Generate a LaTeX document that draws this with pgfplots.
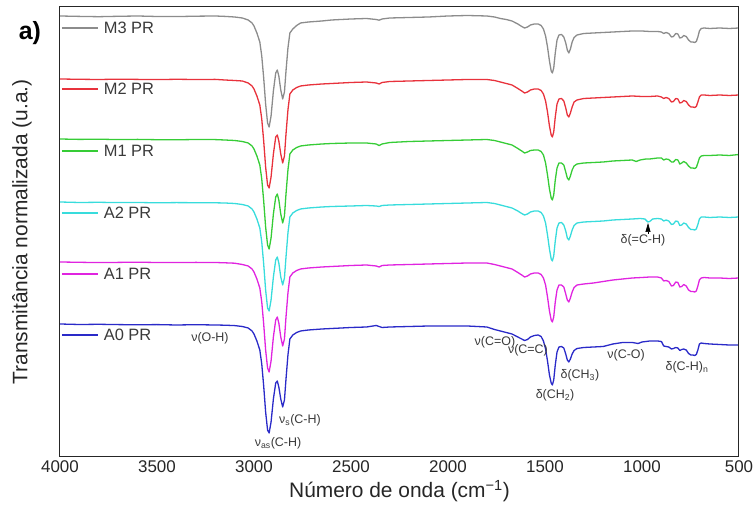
\documentclass[border=0pt]{standalone}
\usepackage{fontspec}
\setmainfont{Liberation Sans}
\usepackage{pgfplots}
\pgfplotsset{compat=1.18}
\usepackage{pgfplotstable}
\usetikzlibrary{arrows.meta}

\definecolor{cM3}{HTML}{8C8C8C}
\definecolor{cM2}{HTML}{E8323C}
\definecolor{cM1}{HTML}{36CC36}
\definecolor{cA2}{HTML}{38DCDC}
\definecolor{cA1}{HTML}{E024E0}
\definecolor{cA0}{HTML}{2A2AC8}
\definecolor{txt}{HTML}{3A3A3A}

% relative transmittance drop (px) below each spectrum's own baseline
\pgfplotstableread{
wn r
4000 0
3900 0.4
3800 0.7
3700 0.3
3600 0
3500 0.5
3400 0.6
3300 0.2
3200 0
3150 0.4
3100 1
3060 2
3030 4
3010 7
3000 10
2985 17
2970 26
2960 40
2950 62
2940 88
2930 107
2922 111
2912 100
2900 75
2888 57
2880 54
2872 60
2862 74
2852 83
2843 76
2835 55
2825 32
2815 17
2800 13
2780 9.5
2760 7
2720 6
2650 5
2600 4
2500 3
2420 2.5
2370 3.5
2355 4.2
2340 3
2300 2
2200 1.5
2100 1
2000 0
1900 -0.5
1800 0
1760 1
1730 2.5
1700 3.5
1670 5
1640 8
1620 10.5
1605 12
1590 11
1575 9
1555 8
1535 8
1520 9.5
1508 13
1497 20
1487 31
1477 45
1468 55
1462 57
1455 52
1447 37
1438 24
1428 19
1415 18.5
1403 21
1393 27
1385 34
1377 37
1369 33
1360 26
1350 21.5
1335 19
1300 17.5
1250 17
1200 16.5
1150 16
1100 15.5
1050 15
1000 15
960 15.5
920 15.5
900 16
888 17.5
876 16.5
862 17.5
848 21
838 20.5
826 17.5
815 18
805 22
795 21.5
785 19.5
772 20.5
760 24
748 26
738 26
728 26.5
720 25.5
712 21
704 15
695 12.5
680 12
650 12.5
600 12
550 12.5
500 12
}\dataMthree

\pgfplotstableread{
wn r
4000 0
3900 0.3
3800 0.5
3700 0.2
3600 0.4
3500 0.6
3400 0.3
3300 0.5
3200 0.4
3150 1
3100 1.5
3060 2
3030 4
3010 7
3000 10
2985 17
2970 26
2960 40
2950 62
2940 88
2930 106
2922 109
2912 98
2900 75
2888 58
2880 56
2872 62
2862 75
2852 84
2843 77
2835 55
2825 31
2815 15
2800 11
2780 8.5
2760 7
2720 6
2650 5
2600 4.5
2500 3.5
2420 3
2370 4
2355 5
2340 3.5
2300 2.5
2200 2
2100 1.5
2000 1
1900 0.5
1800 0.5
1760 1.5
1730 3
1700 4.5
1670 6
1640 9.5
1620 12
1605 14
1590 13
1575 11
1555 10
1535 10
1520 11.5
1508 15
1497 22
1487 33
1477 47
1468 56
1462 58
1455 53
1447 38
1438 25
1428 20
1415 19.5
1403 22
1393 29
1385 36
1377 38
1369 34
1360 28
1350 23
1335 21
1300 19.5
1250 19
1200 18.5
1150 18
1100 17.5
1050 17
1000 17.5
960 17.5
920 17
900 18
888 19.5
876 18.5
862 19.5
848 23
838 22.5
826 19.5
815 20
805 24
795 23.5
785 21.5
772 22.5
760 26
748 28
738 28
728 28.5
720 27.5
712 23
704 18
695 16
680 16
650 16.5
600 16
550 16.5
500 16
}\dataMtwo

\pgfplotstableread{
wn r
4000 0
3900 0.4
3800 0.2
3700 0.6
3600 0.4
3500 0.7
3400 0.8
3300 0.5
3200 0.6
3150 1
3100 1.5
3060 2.5
3030 4
3010 7
3000 10
2985 17
2970 26
2960 40
2950 62
2940 88
2930 106
2922 110
2912 99
2900 75
2888 58
2880 55
2872 61
2862 75
2852 84
2843 77
2835 55
2825 31
2815 15
2800 11
2780 8.5
2760 7
2720 6
2650 5
2600 4.5
2500 4
2420 4
2370 5
2355 6.5
2340 5
2300 3.5
2200 2.5
2100 2
2000 1.5
1900 1
1800 0.5
1760 1.5
1730 3
1700 4.5
1670 6
1640 9.5
1620 12
1605 14
1590 13
1575 11.5
1555 11
1535 11
1520 12.5
1508 16
1497 24
1487 36
1477 50
1468 59
1462 61
1455 56
1447 41
1438 29
1428 24
1415 24
1403 26
1393 33
1385 39
1377 41
1369 37
1360 31
1350 27
1335 25
1300 24
1250 23.5
1200 23
1150 22
1100 21.5
1050 21
1030 22.5
1010 21
980 20
960 20
920 19
900 19
888 21
876 20
862 20.5
848 23
838 23
826 20.5
815 21
805 25
795 24
785 22.5
772 24
760 27
748 29
738 29
728 29.5
720 28.5
712 24
704 19
695 17
680 16.5
650 16.5
600 16
550 16.5
500 15.5
}\dataMone

\pgfplotstableread{
wn r
4000 0
3900 0.5
3800 0.3
3700 0.6
3600 0.5
3500 0.8
3400 0.6
3300 0.7
3200 0.8
3150 1
3100 1.5
3060 2.5
3030 4
3010 7
3000 10
2985 17
2970 26
2960 40
2950 62
2940 88
2930 106
2922 109
2912 98
2900 75
2888 58
2880 55
2872 61
2862 75
2852 83
2843 76
2835 55
2825 31
2815 15
2800 11
2780 8.5
2760 7
2720 6
2650 5
2600 4.5
2500 4
2420 3.5
2370 4
2355 4.5
2340 3.5
2300 3
2200 2.5
2100 2
2000 1.5
1900 1
1800 0.5
1760 1.5
1730 3
1700 4.5
1670 6
1640 9
1620 11.5
1605 13
1590 12
1575 10
1555 9
1535 9
1520 10.5
1508 14
1497 21
1487 33
1477 47
1468 57
1462 59
1455 54
1447 39
1438 26
1428 21
1415 20.5
1403 23
1393 29
1385 36
1377 38
1369 34
1360 28
1350 23.5
1335 21
1300 20
1250 19.5
1200 19
1150 18
1100 17.5
1050 17
1010 16.5
985 17
970 20
960 19.5
945 17
920 16.5
900 17
888 19
876 18
862 19
848 22.5
838 22
826 19
815 19.5
805 23.5
795 23
785 21
772 22
760 25.5
748 27.5
738 27.5
728 28
720 27
712 22.5
704 17
695 15
680 15
650 15.5
600 15
550 15.5
500 15
}\dataAtwo

\pgfplotstableread{
wn r
4000 0
3900 0.3
3800 0.6
3700 0.4
3600 0.2
3500 0.5
3400 0.6
3300 0.4
3200 0.5
3150 0.8
3100 1.2
3060 2.5
3030 4
3010 7
3000 10
2985 17
2970 26
2960 40
2950 62
2940 88
2930 106
2922 110
2912 99
2900 75
2888 58
2880 55
2872 61
2862 75
2852 84
2843 77
2835 55
2825 31
2815 15
2800 11
2780 8.5
2760 7
2720 6
2650 5
2600 4.5
2500 3.5
2420 3
2370 4
2355 5
2340 3.5
2300 3
2200 2.5
2100 2
2000 1.5
1900 1
1800 1
1760 2.5
1730 4
1700 5.5
1670 7
1640 10.5
1620 13
1605 15
1590 14
1575 12
1555 11
1535 11
1520 12.5
1508 16
1497 23
1487 35
1477 49
1468 58
1462 60
1455 55
1447 40
1438 28
1428 23
1415 23
1403 25
1393 32
1385 38
1377 40
1369 36
1360 30
1350 25.5
1335 23
1300 22
1250 21
1200 19.5
1150 18
1100 17
1050 16
1000 15.5
960 15
920 15
900 16
888 19
876 18.5
862 19.5
848 24
838 23.5
826 20
815 20.5
805 25
795 24.5
785 22.5
772 24
760 28
748 29.5
738 29.5
728 30
720 29
712 24
704 18
695 16
680 15.5
650 16
600 16
550 16.5
500 16
}\dataAone

\pgfplotstableread{
wn r
4000 0
3900 0.5
3800 0.3
3700 0.6
3600 0.8
3500 0.6
3400 1
3300 0.7
3200 1
3150 1.2
3100 1.6
3060 2.5
3030 4
3010 7
3000 10
2985 17
2970 26
2960 40
2950 62
2940 88
2930 106
2922 109
2912 98
2900 75
2888 59
2880 57
2872 63
2862 75
2852 83
2843 76
2835 55
2825 31
2815 15
2800 11
2780 8.5
2760 7
2720 6
2650 5
2600 4.5
2500 3.5
2420 3
2370 1.5
2355 2.5
2340 3.5
2300 3
2200 2.5
2100 2
2000 2
1900 2
1800 3
1760 5.5
1730 7
1700 8.5
1670 10
1640 13
1620 15
1605 16.5
1590 15.5
1575 13
1555 11.5
1535 11
1520 12.5
1508 17
1497 25
1487 37
1477 51
1468 59
1462 61
1455 56
1447 41
1438 28
1428 23
1415 22.5
1403 24
1393 30
1385 36
1377 38
1369 35
1360 30
1350 26.5
1335 24.5
1300 23.5
1250 23
1200 22.5
1150 20
1100 18.5
1050 18.5
1020 19.5
1000 18
960 17
920 17
900 17.5
888 22
876 22.5
862 23
848 25
838 24.5
826 23.5
815 24
805 26.5
795 25.5
785 25
772 26
760 29.5
748 31
738 31
728 31.5
720 30.5
712 26
704 20
695 19
680 19.5
650 20
600 20.5
550 21
500 21
}\dataAzero

\pgfplotsset{
  base/.style={scale only axis, width=679bp, height=450bp,
    xmin=500, xmax=4000, x dir=reverse, y dir=reverse,
    at={(0,0)}, anchor=south west},
  trace/.style={base, hide axis},
  spec/.style={line width=1.3bp, line join=round},
}

\newcommand\serieslabel[3]{%
  \draw[#1, line width=1.3bp] (axis cs:3990,#2) -- (axis cs:3806,#2);
  \node[anchor=west, text=txt, font=\fontsize{16.5}{19}\selectfont, inner sep=0pt]
    at (axis cs:3775,#2) {#3};}

\begin{document}
\begin{tikzpicture}
% each spectrum is drawn in its own (vertically shifted) frame
\begin{axis}[trace, ymin=-9, ymax=441]
\addplot[spec, cM3] table[x=wn, y=r] {\dataMthree};
\end{axis}
\begin{axis}[trace, ymin=-72, ymax=378]
\addplot[spec, cM2] table[x=wn, y=r] {\dataMtwo};
\end{axis}
\begin{axis}[trace, ymin=-132, ymax=318]
\addplot[spec, cM1] table[x=wn, y=r] {\dataMone};
\end{axis}
\begin{axis}[trace, ymin=-195, ymax=255]
\addplot[spec, cA2] table[x=wn, y=r] {\dataAtwo};
\end{axis}
\begin{axis}[trace, ymin=-255, ymax=195]
\addplot[spec, cA1] table[x=wn, y=r] {\dataAone};
\end{axis}
\begin{axis}[trace, ymin=-317, ymax=133]
\addplot[spec, cA0] table[x=wn, y=r] {\dataAzero};
\end{axis}

\begin{axis}[base, name=main, ymin=7, ymax=457,
  ytick=\empty, xtick={500,1000,...,4000},
  xtick style={draw=none},
  axis line style={line width=1bp, black!85},
  clip=false,
  xticklabel style={font=\fontsize{17}{20}\selectfont, text=black!85},
  /pgf/number format/1000 sep={},
  /pgf/number format/assume math mode=true]
\serieslabel{cM3}{28}{M3 PR}
\serieslabel{cM2}{89}{M2 PR}
\serieslabel{cM1}{151}{M1 PR}
\serieslabel{cA2}{213}{A2 PR}
\serieslabel{cA1}{274}{A1 PR}
\serieslabel{cA0}{335}{A0 PR}

\node[font=\fontsize{21}{25}\selectfont, rotate=90, text=black!85] at (axis cs:4196,232) {Transmitância normalizada (u.a.)};
\node[font=\fontsize{21}{25}\selectfont, text=black!85] at (axis cs:2250,491) {Número de onda (cm\textsuperscript{−1})};
\node[font=\bfseries\fontsize{25}{28}\selectfont] at (axis cs:4155,33) {a)};

\begin{scope}[every node/.style={font=\fontsize{12.5}{14}\selectfont, text=txt, inner sep=0pt}]
\node at (axis cs:3227,338) {ν(O-H)};
\node at (axis cs:2763,420) {ν\textsubscript{s}(C-H)};
\node at (axis cs:2876,443) {ν\textsubscript{as}(C-H)};
\node at (axis cs:1758,342) {ν(C=O)};
\node at (axis cs:1588,350) {ν(C=C)};
\node at (axis cs:1320,375) {δ(CH\textsubscript{3})};
\node at (axis cs:1448,395) {δ(CH\textsubscript{2})};
\node at (axis cs:1082,355) {ν(C-O)};
\node at (axis cs:768,367) {δ(C-H)\textsubscript{n}};
\node at (axis cs:995,240) {δ(=C-H)};
\end{scope}
\draw[-{Triangle[width=5bp,length=9bp]}, line width=0.6bp, black] (axis cs:969,234) -- (axis cs:969,223);
\end{axis}

\pgfresetboundingbox
\path ([xshift=-60bp,yshift=-55bp]main.south west) rectangle ([xshift=16bp,yshift=7bp]main.north east);
\end{tikzpicture}
\end{document}
